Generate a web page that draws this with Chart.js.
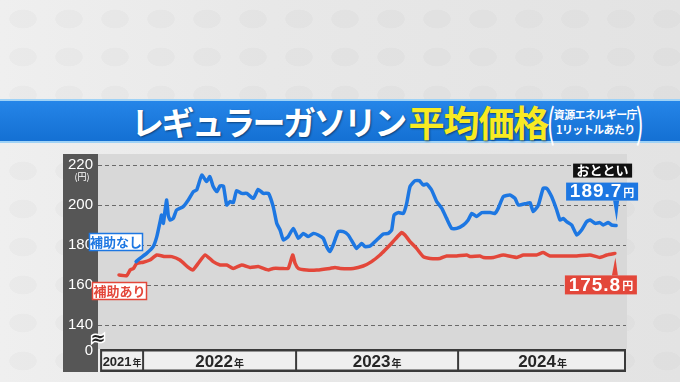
<!DOCTYPE html>
<html lang="ja">
<head>
<meta charset="utf-8">
<script src="https://cdn.jsdelivr.net/npm/chart.js@4.4.1/dist/chart.umd.min.js"></script>
<style>
  html,body{margin:0;padding:0;width:680px;height:382px;overflow:hidden;}
  body{background:#e6e6e6;position:relative;font-family:"Noto Sans CJK JP","Noto Sans",sans-serif;}
  #bg{position:absolute;left:0;top:0;width:680px;height:382px;
    background:
      radial-gradient(ellipse 19px 13px at 50% 50%, rgba(0,0,0,0.018) 70%, rgba(0,0,0,0) 74%) 0 0/46px 38px,
      linear-gradient(90deg,#efefef 0%,#e8e8e8 40%,#e3e3e3 100%);}
  #band{position:absolute;left:0;top:99px;width:680px;height:44px;
    background:linear-gradient(to bottom,#9fd2f6 0px,#9fd2f6 2px,#2585e8 2px,#1470d3 42px,#9fd2f6 42px,#9fd2f6 44px);}
  #title{position:absolute;left:131px;top:101px;height:40px;display:flex;align-items:center;white-space:nowrap;
    font-family:"Noto Sans CJK JP",sans-serif;font-weight:700;}
  .t1{color:#fff;font-size:33px;letter-spacing:-2.6px;line-height:40px;text-shadow:1px 1px 2px rgba(0,0,0,0.45);}
  .t2{color:#f8ea22;font-size:36px;letter-spacing:-1.1px;line-height:40px;margin-left:4px;text-shadow:1px 1px 2px rgba(0,0,0,0.45);}
  .paren{color:#fff;font-size:40px;font-weight:400;line-height:40px;transform:scaleX(0.6);display:inline-block;margin:0 -4px;}
  .small{color:#fff;font-size:11px;line-height:15px;text-align:center;letter-spacing:-0.6px;margin-top:1px;}
  #wrap{position:absolute;left:0;top:0;width:680px;height:382px;}
</style>
</head>
<body>
<div id="bg"></div>
<div id="band"></div>
<div id="title"><span class="t1">レギュラーガソリン</span><span class="t2">平均価格</span><span class="paren">(</span><span class="small">資源エネルギー庁<br>1リットルあたり</span><span class="paren">)</span></div>
<div id="wrap"><canvas id="c" width="680" height="382"></canvas></div>
<script>
// x values: week index from start of the 補助あり series
const blueWeeks = [5.7,7,9.2,11.4,12.6,13.7,14.2,14.8,15.3,15.9,16.4,17,18.1,19.2,21.4,23.1,24.8,25.9,27.6,29.2,30.3,31.4,32.6,33.7,34.8,35.9,37,38.1,39.2,40.9,42.6,44.8,46.4,48.1,49.8,51.4,52.6,53.7,54.8,56.4,58.1,59.8,61.4,63.1,64.8,66.4,68.1,69.2,70.3,71.4,73.1,74.8,76.4,78.1,79.2,80.9,82,83.7,85.9,88.1,89.8,90.9,91.7,93.1,94.8,95.9,97,98.7,100.1,101.4,102.6,104.2,105.9,107.6,109.2,110.9,112.6,114.8,116.4,117.6,119.2,120.9,123.7,125.3,126.4,128.1,130.3,132,133.1,135.9,137,138.1,139.8,141.4,142.6,144.2,145.9,147,148.1,149.2,150.9,152.6,154.2,155.9,157,158.7,160.3,161.4,163.1,164.2,165.7];
const bluePrices = [171.7,173.3,175.8,179.2,184.2,191.7,195,190.8,196.7,202.5,195,192.5,193.3,197.5,199.2,202.5,206.7,207.5,215,211.7,214.2,209.2,206.7,209.6,209.5,200,201.7,201.2,207.2,205.8,205.8,203.3,207.8,205.8,205.8,199.2,190.8,187.5,182.5,184.2,188.3,183.3,185.8,184.2,185.8,185,183.3,179.2,176.7,180,186.7,186.7,185,180.8,178.3,180.8,179.2,179.5,182.5,185.5,185.8,187.5,195,196.2,195.8,200.8,209.2,212.2,212.2,210,210.5,207.5,201.7,198.3,193.3,188.3,188.3,190,192.5,195.8,194.2,196.2,196.2,195.8,198.3,204.2,205,203.3,200,200.8,201.2,196.7,200,208.3,208.3,204.2,197.5,192.5,193.3,191.7,190,185,187.5,191.7,192.5,190.8,191.2,190,191.2,190,189.7];
const redWeeks = [0,2.6,3.7,4.8,5.9,8.1,10.3,12.6,15.3,17.6,20.3,23.1,24.6,26.4,28.7,31.4,33.7,35.9,38.1,40.9,43.7,46.4,48.1,49.8,51.4,54.2,56.4,57.9,58.7,59.8,62.6,65.9,70.3,72,73.7,78.1,81.4,84.2,87,88.7,90.3,92,94.2,95.3,97,99.2,101.4,103.7,107,109.2,112.6,115.9,117,120.3,121.4,124.8,128.1,132.6,134.8,139.2,141.4,143.7,147,152.6,157,160.3,162.6,165.3];
const redPrices = [165,164.7,167.5,168.3,170.8,171.4,172.5,175,174.2,174.2,172.5,168.8,167.5,170.8,175,171.7,170,170,168.3,170,168.8,169.2,168.3,167.5,168.3,168.3,168.3,175,170.8,168.3,167.5,167.5,168.3,168.8,168.3,168.3,169.5,171.7,175,177.5,180,182.8,186.2,185,181.7,178.3,174.2,173.3,173.3,174.5,174.5,175,174.2,174.5,173.8,173.8,175,173.8,175,175,176.2,174.5,174.5,174.5,175,173.8,175,175.8];
const yTicks = [140,160,180,200,220];
const yearEdges = [-6.3,7.7,58.7,112.7,169];
const yearLabels = ['2021','2022','2023','2024'];
const seriesNames = ['補助なし','補助あり'];
const latestLabel = 'おととい';
const latestBlue = '189.7';
const latestRed = '175.8';

const BLUE = '#1d77e2';
const RED = '#e3473a';

function roundRect(ctx,x,y,w,h,fill,stroke,lw){
  ctx.beginPath(); ctx.rect(x,y,w,h);
  if(fill){ctx.fillStyle=fill;ctx.fill();}
  if(stroke){ctx.lineWidth=lw||1.5;ctx.strokeStyle=stroke;ctx.stroke();}
}

const deco = {
  id:'deco',
  beforeDraw(c){
    const ctx=c.ctx,a=c.chartArea;
    ctx.save();
    ctx.fillStyle='#565656';
    ctx.fillRect(63,a.top,a.left-63,372-a.top);
    ctx.fillStyle='#d8d8d8';
    ctx.fillRect(a.left,a.top,a.right-a.left+1,a.bottom-a.top);
    ctx.restore();
  },
  afterDraw(c){
    const ctx=c.ctx,a=c.chartArea,xs=c.scales.x,ys=c.scales.y;
    ctx.save();
    // unit label
    ctx.fillStyle='#fff';ctx.font='9px "Noto Sans CJK JP"';ctx.textAlign='center';ctx.textBaseline='middle';
    ctx.fillText('(円)',82,177);
    // "0" label
    ctx.font='15px "Liberation Sans"';ctx.textAlign='right';
    ctx.fillText('0',93,351);
    // break mark
    ctx.font='bold 18px "DejaVu Sans"';ctx.textAlign='center';
    ctx.lineWidth=3;ctx.strokeStyle='#ffffff';ctx.strokeText('≈',98,339);
    ctx.fillStyle='#222';ctx.fillText('≈',98,339);

    // year bar
    const top=349,bot=372;
    const x0=xs.getPixelForValue(yearEdges[0]);
    const x1=xs.getPixelForValue(yearEdges[yearEdges.length-1]);
    ctx.fillStyle='#3a3a3a';
    ctx.fillRect(x0,top,x1-x0,bot-top);
    for(let i=0;i<yearLabels.length;i++){
      const l=xs.getPixelForValue(yearEdges[i]);
      const r=xs.getPixelForValue(yearEdges[i+1]);
      ctx.fillStyle='#efefef';
      ctx.fillRect(l+2,top+2.5,r-l-(i===yearLabels.length-1?4:2),bot-top-5);
      const big = i===0?13:17;
      const small = i===0?9:10;
      ctx.font='bold '+big+'px "Liberation Sans"';
      const w1=ctx.measureText(yearLabels[i]).width;
      ctx.font='bold '+small+'px "Noto Sans CJK JP"';
      const w2=ctx.measureText('年').width;
      const tot=w1+1+w2;
      const cx=(l+r)/2+1;
      const by=(top+bot)/2+ (i===0?5:6);
      ctx.textAlign='left';ctx.textBaseline='alphabetic';ctx.fillStyle='#262626';
      ctx.font='bold '+big+'px "Liberation Sans"';
      ctx.fillText(yearLabels[i],cx-tot/2,by);
      ctx.font='bold '+small+'px "Noto Sans CJK JP"';
      ctx.fillText('年',cx-tot/2+w1+1,by);
    }

    // series labels
    ctx.textAlign='center';ctx.textBaseline='middle';
    roundRect(ctx,89.5,233.5,53,17,'#ffffff',BLUE,1.5);
    ctx.fillStyle=BLUE;ctx.font='bold 13px "Noto Sans CJK JP"';
    ctx.fillText(seriesNames[0],116,242.5);
    roundRect(ctx,92.5,282.5,54,17,'#ffffff',RED,1.5);
    ctx.fillStyle=RED;
    ctx.fillText(seriesNames[1],119.5,291.5);

    // callouts
    const mb=c.getDatasetMeta(0).data, mr=c.getDatasetMeta(1).data;
    const pb=mb[mb.length-1], pr=mr[mr.length-1];
    // おととい
    ctx.fillStyle='#111';ctx.fillRect(pb.x-43,pb.y-62,59,14);
    ctx.fillStyle='#fff';ctx.font='bold 13px "Noto Sans CJK JP"';
    ctx.fillText(latestLabel,pb.x-13.5,pb.y-55.5);
    function callout(p,boxTop,boxBot,color,txt,dir){
      const bl=p.x-50,br=p.x+22;
      ctx.fillStyle=color;
      ctx.fillRect(bl,boxTop,br-bl,boxBot-boxTop);
      ctx.beginPath();
      const baseY = dir<0?boxBot:boxTop;
      ctx.moveTo(p.x-3,baseY);ctx.lineTo(p.x+3,baseY);ctx.lineTo(p.x+0.5,p.y+dir*4);ctx.closePath();ctx.fill();
      ctx.fillStyle='#fff';
      ctx.font='bold 19px "Liberation Sans"';
      ctx.letterSpacing='1px';
      const w1=ctx.measureText(txt).width;
      ctx.letterSpacing='0px';
      ctx.font='bold 11px "Noto Sans CJK JP"';
      const w2=ctx.measureText('円').width;
      const tot=w1+1+w2;
      const cx=(bl+br)/2;
      ctx.textAlign='left';ctx.textBaseline='alphabetic';
      ctx.font='bold 19px "Liberation Sans"';ctx.letterSpacing='1px';
      ctx.fillText(txt,cx-tot/2,boxBot-3.5);
      ctx.letterSpacing='0px';
      ctx.font='bold 11px "Noto Sans CJK JP"';
      ctx.fillText('円',cx-tot/2+w1+1,boxBot-4);
    }
    callout(pb,pb.y-43,pb.y-25,BLUE,latestBlue,-1);
    callout(pr,pr.y+22,pr.y+41,RED,latestRed,1);
    ctx.restore();
  }
};

new Chart(document.getElementById('c'),{
  type:'line',
  data:{datasets:[
    {label:seriesNames[0],data:blueWeeks.map((w,i)=>({x:w,y:bluePrices[i]})),borderColor:BLUE,borderWidth:3.5,pointRadius:0,tension:0.15,borderJoinStyle:'round',borderCapStyle:'round'},
    {label:seriesNames[1],data:redWeeks.map((w,i)=>({x:w,y:redPrices[i]})),borderColor:RED,borderWidth:3.5,pointRadius:0,tension:0.15,borderJoinStyle:'round',borderCapStyle:'round'}
  ]},
  options:{
    responsive:false,animation:false,devicePixelRatio:1,
    layout:{padding:{left:63,right:54,top:154,bottom:33}},
    plugins:{legend:{display:false},tooltip:{enabled:false}},
    scales:{
      x:{type:'linear',min:-7,max:169,display:false},
      y:{type:'linear',min:128,max:225.5,
        afterBuildTicks(s){s.ticks=yTicks.map(v=>({value:v}));},
        afterFit(s){s.width=35;},
        grid:{color:'#6a6a6a',lineWidth:1,drawTicks:false},
        border:{display:false,dash:[4,3]},
        ticks:{color:'#ffffff',padding:5,font:{family:'"Liberation Sans"',size:15}}
      }
    }
  },
  plugins:[deco]
});
</script>
</body>
</html>
